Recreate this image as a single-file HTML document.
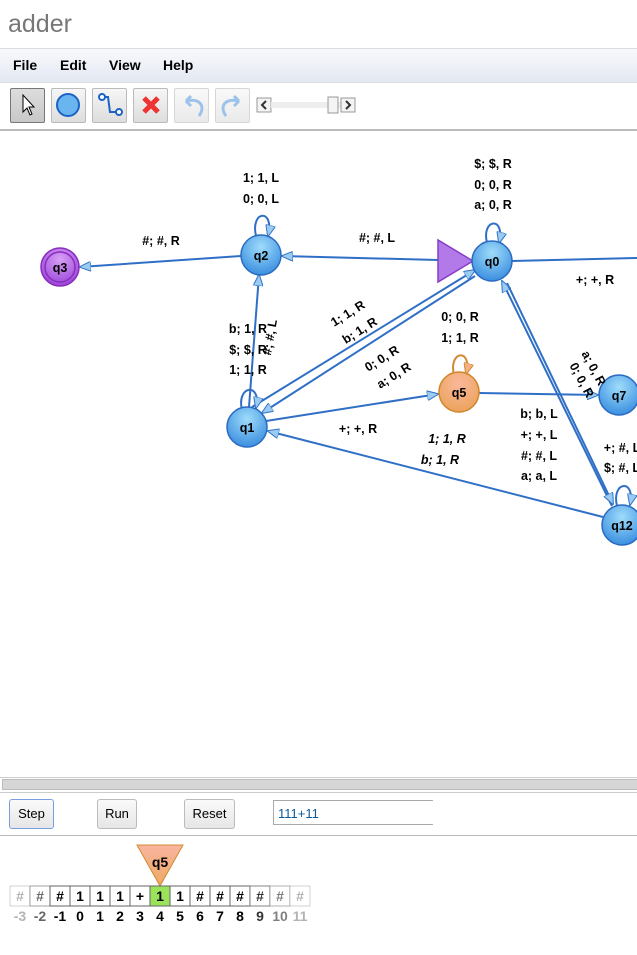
<!DOCTYPE html>
<html><head><style>
body{margin:0;width:637px;height:955px;overflow:hidden;background:#fff;font-family:"Liberation Sans",sans-serif;position:relative}
.a{position:absolute}
.btn{position:absolute;top:88px;width:33px;height:33px;border:1px solid #bbb;border-radius:2px;background:linear-gradient(#f6f6f6,#ddd)}
.b2{position:absolute;top:799px;height:28px;border:1px solid #bbb;border-radius:3px;background:linear-gradient(#fafafa,#e6e6e6);font-size:13px;line-height:28px;text-align:center}
</style></head><body>
<div class="a" style="left:8px;top:10px;font-size:25px;color:#777">adder</div>
<div class="a" style="left:0;top:48px;width:637px;height:33px;border-top:1px solid #ddd;border-bottom:1px solid #ddd;background:linear-gradient(#f8f9fc,#e3e8f2)"></div>
<div class="a" style="left:13px;top:57px;font-size:14px;font-weight:bold">File</div>
<div class="a" style="left:60px;top:57px;font-size:14px;font-weight:bold">Edit</div>
<div class="a" style="left:109px;top:57px;font-size:14px;font-weight:bold">View</div>
<div class="a" style="left:163px;top:57px;font-size:14px;font-weight:bold">Help</div>
<div class="btn" style="left:10px;background:linear-gradient(#ddd,#c8c8c8);border-color:#777"></div>
<div class="btn" style="left:51px"></div>
<div class="btn" style="left:92px"></div>
<div class="btn" style="left:133px"></div>
<div class="btn" style="left:174px;opacity:.6"></div>
<div class="btn" style="left:215px;opacity:.6"></div>
<svg class="a" style="left:0;top:84px" width="637" height="50">
<path d="M23,11 L23,28 L27,24 L30,31 L32,30 L29,23 L34,23 Z" fill="#fff" stroke="#000"/>
<circle cx="68" cy="21" r="11" fill="#6ab4f0" stroke="#1b63c6" stroke-width="2"/>
<path d="M102,13 L108,13 L110,28 L117,28" fill="none" stroke="#1b63c6" stroke-width="2"/><circle cx="102" cy="13" r="3" fill="#fff" stroke="#1b63c6" stroke-width="2"/><circle cx="119" cy="28" r="3" fill="#fff" stroke="#1b63c6" stroke-width="2"/>
<path d="M144,14 L158,28 M158,14 L144,28" stroke="#e33" stroke-width="5"/>
<path d="M199,32 C206,22 200,14 186,17 M186,17 l5,-5 M186,17 l5,5" fill="none" stroke="#9cc3ea" stroke-width="3"/>
<path d="M226,32 C219,22 225,14 239,17 M239,17 l-5,-5 M239,17 l-5,5" fill="none" stroke="#9cc3ea" stroke-width="3"/>
<rect x="257" y="14" width="14" height="14" fill="#f4f4f4" stroke="#999"/><path d="M266,17 l-4,4 l4,4" fill="none" stroke="#333" stroke-width="2"/>
<rect x="271" y="18" width="70" height="6" fill="#eee"/>
<rect x="328" y="13" width="10" height="16" fill="#f4f4f4" stroke="#999"/>
<rect x="341" y="14" width="14" height="14" fill="#f4f4f4" stroke="#999"/><path d="M346,17 l4,4 l-4,4" fill="none" stroke="#333" stroke-width="2"/>
<line x1="0" y1="46" x2="637" y2="46" stroke="#bbb" stroke-width="2"/>
</svg>
<svg class="a" style="left:0;top:0" width="637" height="780" font-family="Liberation Sans" font-size="12.5" font-weight="bold">
<defs>
<marker id="ar" markerWidth="12" markerHeight="10" refX="11" refY="5" orient="auto" markerUnits="userSpaceOnUse"><path d="M0,0 L12,5 L0,10 Z" fill="#9ccbf2" stroke="#2f73c6"/></marker>
<marker id="ao" markerWidth="12" markerHeight="10" refX="11" refY="5" orient="auto" markerUnits="userSpaceOnUse"><path d="M0,0 L12,5 L0,10 Z" fill="#f5b080" stroke="#d08a30"/></marker>
<radialGradient id="gb" cx="50%" cy="30%" r="70%"><stop offset="0" stop-color="#9fdcfa"/><stop offset="1" stop-color="#3b8fe0"/></radialGradient>
<radialGradient id="go" cx="50%" cy="30%" r="70%"><stop offset="0" stop-color="#fbb89c"/><stop offset="1" stop-color="#eba35a"/></radialGradient>
<radialGradient id="gp" cx="50%" cy="30%" r="70%"><stop offset="0" stop-color="#d7a0f5"/><stop offset="1" stop-color="#9a45d8"/></radialGradient>
</defs>
<g stroke="#2f6fc6" stroke-width="2" fill="none">
<line x1="241" y1="256" x2="80" y2="267" marker-end="url(#ar)"/>
<line x1="438" y1="260" x2="282" y2="256" marker-end="url(#ar)"/>
<line x1="512" y1="261" x2="637" y2="258"/>
<line x1="249" y1="407" x2="259" y2="275" marker-end="url(#ar)"/>
<line x1="252" y1="407" x2="475" y2="270" marker-end="url(#ar)"/>
<line x1="475" y1="276" x2="262" y2="413" marker-end="url(#ar)"/>
<line x1="266" y1="421" x2="438" y2="394" marker-end="url(#ar)"/>
<line x1="479" y1="393" x2="598" y2="395" marker-end="url(#ar)"/>
<line x1="603" y1="517" x2="268" y2="431" marker-end="url(#ar)"/>
<line x1="612" y1="506" x2="502" y2="281" marker-end="url(#ar)"/>
<line x1="507" y1="283" x2="613" y2="504" marker-end="url(#ar)"/>
<path d="M256,236 C250,210 275,208 268,236" marker-end="url(#ar)"/>
<path d="M487,243 C481,218 506,216 499,243" marker-end="url(#ar)"/>
<path d="M242,410 C236,385 262,382 256,408" marker-end="url(#ar)"/>
<path d="M617,506 C611,481 636,478 630,505" marker-end="url(#ar)"/>
<path d="M454,375 C448,350 473,348 466,374" stroke="#d08a30" marker-end="url(#ao)"/>
</g>
<polygon points="438,240 438,282 473,261" fill="#b27ae8" stroke="#8a3cc8" stroke-width="1.5"/>
<circle cx="60" cy="267" r="19" fill="url(#gp)" stroke="#8a2cbe" stroke-width="1.5"/><circle cx="60" cy="267" r="15" fill="none" stroke="#8a2cbe" stroke-width="1.5"/>
<g stroke="#2a6ac0" stroke-width="1.5" fill="url(#gb)">
<circle cx="261" cy="255" r="20"/><circle cx="492" cy="261" r="20"/><circle cx="247" cy="427" r="20"/><circle cx="619" cy="395" r="20"/><circle cx="622" cy="525" r="20"/>
</g>
<circle cx="459" cy="392" r="20" fill="url(#go)" stroke="#d0862a" stroke-width="1.5"/>
<g text-anchor="middle">
<text x="60" y="272">q3</text><text x="261" y="260">q2</text><text x="492" y="266">q0</text><text x="247" y="432">q1</text><text x="459" y="397">q5</text><text x="619" y="400">q7</text><text x="622" y="530">q12</text>
<text x="161" y="245">#; #, R</text><text x="377" y="242">#; #, L</text><text x="595" y="284">+; +, R</text>
<text x="261" y="182">1; 1, L</text><text x="261" y="203">0; 0, L</text>
<text x="493" y="168">$; $, R</text><text x="493" y="189">0; 0, R</text><text x="493" y="209">a; 0, R</text>
<text x="248" y="333">b; 1, R</text><text x="248" y="354">$; $, R</text><text x="248" y="374">1; 1, R</text>
<text x="460" y="321">0; 0, R</text><text x="460" y="342">1; 1, R</text>
<text x="539" y="418">b; b, L</text><text x="539" y="439">+; +, L</text><text x="539" y="460">#; #, L</text><text x="539" y="480">a; a, L</text>
<text x="358" y="433">+; +, R</text>
<text x="622" y="452">+; #, L</text><text x="622" y="472">$; #, L</text>
<text x="0" y="0" transform="translate(350,317) rotate(-32)">1; 1, R</text>
<text x="0" y="0" transform="translate(362,334) rotate(-32)">b; 1, R</text>
<text x="0" y="0" transform="translate(384,362) rotate(-32)">0; 0, R</text>
<text x="0" y="0" transform="translate(396,379) rotate(-32)">a; 0, R</text>
<text x="0" y="0" transform="translate(274,338) rotate(-80)">#; #, L</text>
<text x="0" y="0" transform="translate(578,382) rotate(62)">0; 0, R</text>
<text x="0" y="0" transform="translate(590,370) rotate(62)">a; 0, R</text>
</g>
<g font-style="italic" text-anchor="middle"><text x="447" y="443">1; 1, R</text><text x="440" y="464">b; 1, R</text></g>
</svg>
<div class="a" style="left:0;top:777px;width:637px;height:14px;border-top:1px solid #ccc;border-bottom:1px solid #ccc;background:#fff"></div>
<div class="a" style="left:2px;top:779px;width:635px;height:9px;background:#d6d6d6;border:1px solid #bbb"></div>
<div class="b2" style="left:9px;width:43px;border-color:#7a9ee0">Step</div>
<div class="b2" style="left:97px;width:38px">Run</div>
<div class="b2" style="left:184px;width:49px">Reset</div>
<div class="a" style="left:273px;top:800px;width:160px;height:25px;border:1px solid #aaa;border-right:none;font-size:13px;line-height:25px;color:#0a5a9a;padding-left:4px;box-sizing:border-box">111+11</div>
<div class="a" style="left:0;top:835px;width:637px;height:1px;background:#bbb"></div>
<svg class="a" style="left:0;top:840px" width="637" height="115" font-family="Liberation Sans" font-weight="bold" font-size="14" text-anchor="middle">
<defs><linearGradient id="tg" x1="0" y1="0" x2="0" y2="1"><stop offset="0" stop-color="#f9b5a0"/><stop offset="1" stop-color="#eea860"/></linearGradient></defs>
<polygon points="137,5 183,5 160,46" fill="url(#tg)" stroke="#d08a30"/>
<text x="160" y="27">q5</text>
<g id="t"></g>
</svg>
<script>
var s=["#","#","#","1","1","1","+","1","1","#","#","#","#","#","#"],l=["-3","-2","-1","0","1","2","3","4","5","6","7","8","9","10","11"],op=[.3,.6,1,1,1,1,1,1,1,1,1,1,.8,.5,.3];
var h="";for(var i=0;i<15;i++){var x=10+i*20;h+='<rect x="'+x+'" y="46" width="20" height="20" fill="'+(i==7?'#9be35a':'#fff')+'" stroke="#666" stroke-opacity="'+op[i]+'"/>';h+='<text x="'+(x+10)+'" y="61" fill-opacity="'+op[i]+'">'+s[i]+'</text><text x="'+(x+10)+'" y="81" fill-opacity="'+op[i]+'">'+l[i]+'</text>';}
document.getElementById("t").innerHTML=h;
</script>
</body></html>
